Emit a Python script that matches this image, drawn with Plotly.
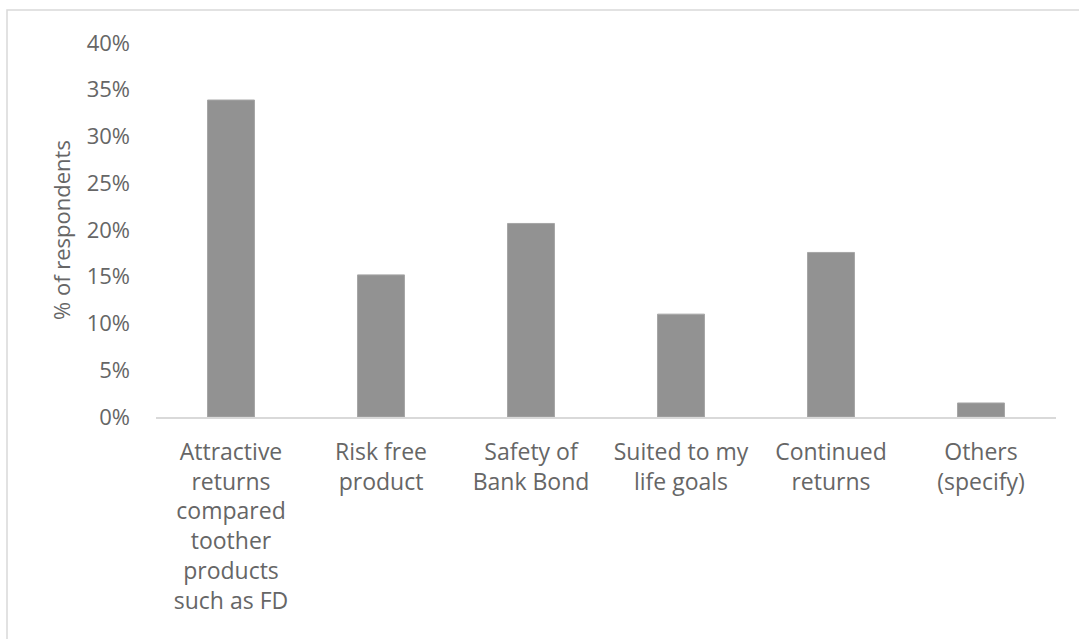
import plotly.graph_objects as go

categories = [
    "Attractive<br>returns<br>compared<br>toother<br>products<br>such as FD",
    "Risk free<br>product",
    "Safety of<br>Bank Bond",
    "Suited to my<br>life goals",
    "Continued<br>returns",
    "Others<br>(specify)",
]
values = [0.339, 0.152, 0.207, 0.110, 0.176, 0.015]
y_ticks = [0, 0.05, 0.10, 0.15, 0.20, 0.25, 0.30, 0.35, 0.40]
y_title = "% of respondents"

font_family = "Open Sans, Liberation Sans, sans-serif"
text_color = "#666666"

fig = go.Figure(
    go.Bar(
        x=categories,
        y=values,
        marker=dict(color="#929292", line=dict(color="#a6a6a6", width=1)),
        width=0.313,
    )
)

W, H = 1079, 639
ml, mr, mt, mb = 156, 23, 43, 222
pw, ph = W - ml - mr, H - mt - mb


def px_x(p):
    return (p - ml) / pw


def px_y(p):
    return (H - mb - p) / ph


fig.update_layout(
    width=W,
    height=H,
    margin=dict(l=ml, r=mr, t=mt, b=mb),
    paper_bgcolor="white",
    plot_bgcolor="white",
    showlegend=False,
    font=dict(family=font_family, color=text_color, size=22),
    bargap=0.687,
    xaxis=dict(
        showgrid=False,
        showline=True,
        linecolor="#d9d9d9",
        linewidth=2,
        ticks="",
        tickfont=dict(size=23, color=text_color),
        ticklabelstandoff=13,
        range=[-0.5, 5.5],
    ),
    yaxis=dict(
        range=[0, 0.40],
        tickvals=y_ticks,
        tickformat=".0%",
        showgrid=False,
        zeroline=False,
        showline=False,
        ticks="",
        tickfont=dict(size=22, color=text_color),
        ticklabelstandoff=25,
    ),
    annotations=[
        dict(
            text=y_title,
            x=px_x(61),
            y=px_y(230),
            xref="paper",
            yref="paper",
            textangle=-90,
            showarrow=False,
            font=dict(size=22, color=text_color, family=font_family),
            xanchor="center",
            yanchor="middle",
        )
    ],
    shapes=[
        dict(
            type="rect",
            xref="paper",
            yref="paper",
            x0=px_x(7),
            x1=px_x(1090),
            y0=px_y(650),
            y1=px_y(10),
            line=dict(color="#d9d9d9", width=1.5),
            fillcolor="rgba(0,0,0,0)",
            layer="below",
        )
    ],
)

fig.write_html(
    "out.html",
    config={"displayModeBar": False},
    post_script="document.body.style.margin='0';document.body.style.overflow='hidden';",
)
